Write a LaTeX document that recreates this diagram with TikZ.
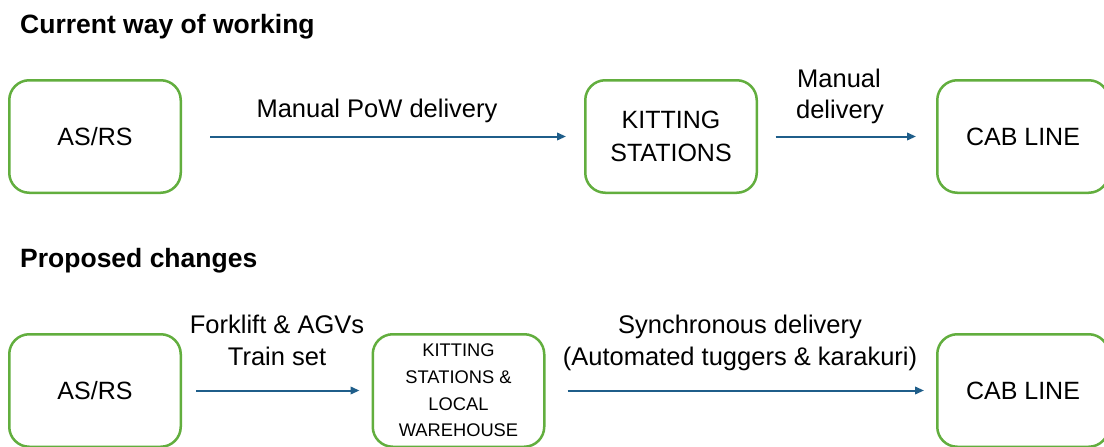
\documentclass[tikz,border=0pt]{standalone}
\usepackage{fontspec}
\setmainfont{Liberation Sans}
\usetikzlibrary{arrows.meta}
\definecolor{boxgreen}{HTML}{62AE3E}
\definecolor{arrblue}{HTML}{1F5E8A}
\tikzset{
  box/.style={draw=boxgreen, line width=2.5pt, rounded corners=20pt, minimum width=171.5pt, minimum height=112.5pt, inner sep=0pt, align=center, font=\fontsize{25}{33}\selectfont},
  arr/.style={draw=arrblue, line width=2pt, -{Triangle[length=9pt,width=7.5pt]}},
  lbl/.style={font=\fontsize{25.5}{32}\selectfont, anchor=base, inner sep=0pt},
  ttl/.style={font=\fontsize{26.5}{30}\selectfont\bfseries, anchor=base west, inner sep=0pt},
}
\begin{document}
\begin{tikzpicture}[x=1pt,y=-1pt]
\clip (0,0) rectangle (1104,447);
\fill[white] (0,0) rectangle (1104,447);
% titles
\node[ttl] (t1) at (20,33) {Current way of working};
\node[ttl] (t2) at (20,267) {Proposed changes};
% top row
\node[box] (a1) at (95,136.5) {AS/RS};
\node[box] (k1) at (671,136.5) {KITTING\\STATIONS};
\node[box] (c1) at (1023,136.5) {CAB LINE};
\draw[arr, shorten <=28pt, shorten >=18pt] (a1.east) -- (k1.west);
\draw[arr, shorten <=17.5pt, shorten >=20pt] (k1.east) -- (c1.west);
\node[lbl] (l1) at (377,117) {Manual PoW delivery};
\node[lbl] (l2a) at (839,87) {Manual};
\node[lbl] (l2b) at (840,118) {delivery};
% bottom row
\node[box] (a2) at (95,390.5) {AS/RS};
\node[box, font=\fontsize{18.3}{26.7}\selectfont] (k2) at (458.5,390.5) {KITTING\\STATIONS \&\\LOCAL\\WAREHOUSE};
\node[box] (c2) at (1023,390.5) {CAB LINE};
\draw[arr, shorten <=14pt, shorten >=12pt] (a2.east) -- (k2.west);
\draw[arr, shorten <=22pt, shorten >=12pt] (k2.east) -- (c2.west);
\node[lbl] (l3a) at (277,333) {Forklift \& AGVs};
\node[lbl] (l3b) at (277,365) {Train set};
\node[lbl] (l4a) at (740,333) {Synchronous delivery};
\node[lbl] (l4b) at (740,365) {(Automated tuggers \& karakuri)};
\end{tikzpicture}
\end{document}
